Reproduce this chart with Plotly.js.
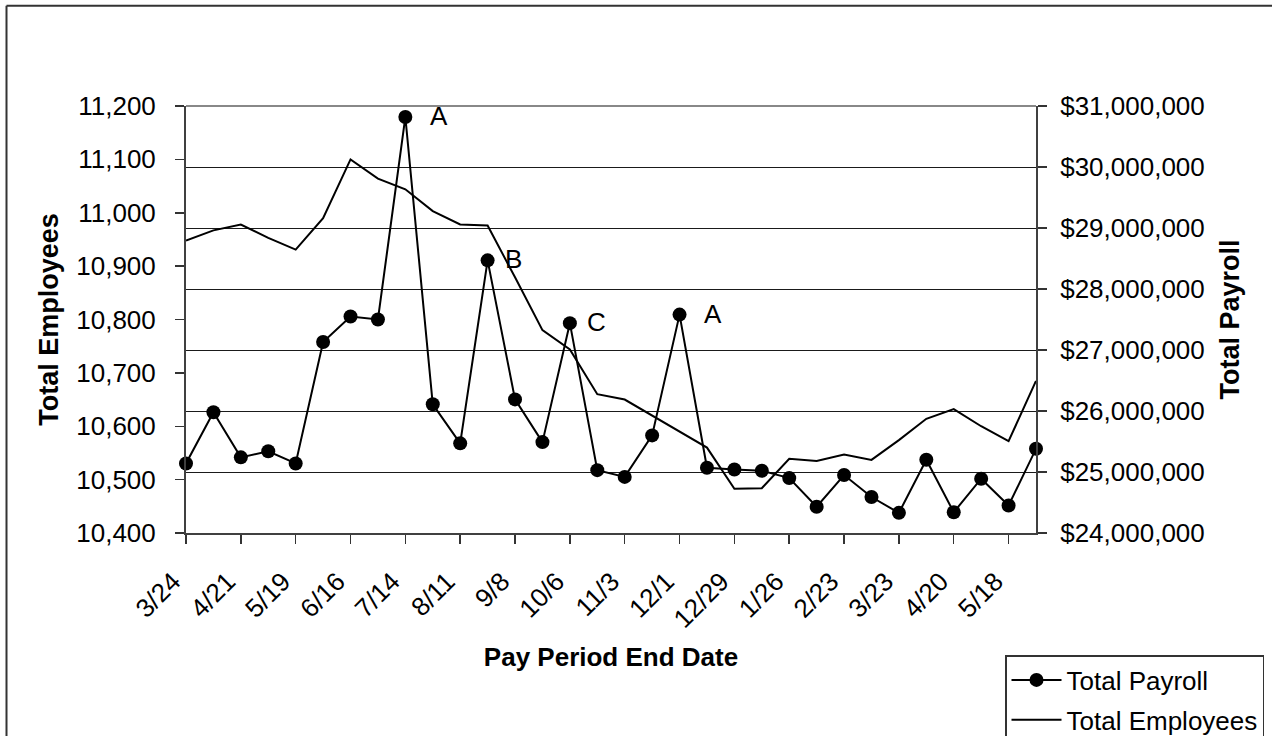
<!DOCTYPE html>
<html>
<head>
<meta charset="utf-8">
<script src="https://cdn.plot.ly/plotly-3.0.1.min.js"></script>
<style>
  html, body { margin: 0; padding: 0; background: #fff; }
  #chart { width: 1272px; height: 736px; }
</style>
</head>
<body>
<div id="chart"></div>
<script>
// ---- data ----
const dates = ['3/24','4/7','4/21','5/5','5/19','6/2','6/16','6/30','7/14','7/28',
               '8/11','8/25','9/8','9/22','10/6','10/20','11/3','11/17','12/1','12/15',
               '12/29','1/12','1/26','2/9','2/23','3/9','3/23','4/6','4/20','5/4',
               '5/18','6/1'];
const payroll = [25140000, 25980000, 25240000, 25340000, 25140000, 27130000, 27550000, 27500000,
                 30820000, 26110000, 25470000, 28470000, 26190000, 25490000, 27440000, 25030000,
                 24920000, 25600000, 27580000, 25070000, 25040000, 25020000, 24900000, 24430000,
                 24950000, 24590000, 24330000, 25200000, 24340000, 24890000, 24450000, 25380000];
const employees = [10948, 10967, 10978, 10953, 10931, 10990, 11100, 11064, 11044, 11003,
                   10978, 10976, 10879, 10780, 10744, 10660, 10650, 10620, 10591, 10560,
                   10483, 10484, 10539, 10535, 10547, 10537, 10574, 10614, 10632, 10600,
                   10572, 10685];
const pointLabels = ['','','','','','','','','A','','','B','','','C','','','','A','',
                     '','','','','','','','','','','',''];
const tickLabels = dates.filter((d, i) => i % 2 === 0);

// ---- styling / geometry ----
const FONT = 'Liberation Sans, Arial, Helvetica, sans-serif';
const L = 186, R = 236, T = 106, B = 203;
const W = 1272, H = 736;
const PW = W - L - R, PH = H - T - B;
const px = v => (v - L) / PW;          // pixel x -> paper x
const py = v => (H - B - v) / PH;      // pixel y -> paper y
const labelShift = {8: 23, 11: 15, 14: 15, 18: 22};

const traces = [
  {
    x: dates, y: payroll, yaxis: 'y2', name: 'Total Payroll',
    type: 'scatter', mode: 'lines+markers', cliponaxis: false,
    line: {color: '#000', width: 2},
    marker: {color: '#000', size: 14},
    hoverinfo: 'skip', legendgroup: 'a'
  },
  {
    x: dates, y: employees, yaxis: 'y', name: 'Total Employees',
    type: 'scatter', mode: 'lines', cliponaxis: false,
    line: {color: '#000', width: 2},
    hoverinfo: 'skip', legendgroup: 'b'
  }
];

const annotations = [];
pointLabels.forEach((t, i) => {
  if (!t) return;
  annotations.push({
    x: dates[i], y: payroll[i], xref: 'x', yref: 'y2', text: t,
    showarrow: false, xanchor: 'left', yanchor: 'middle',
    xshift: labelShift[i] || 20, yshift: 1,
    font: {family: FONT, size: 26, color: '#000'}
  });
});

const layout = {
  width: W, height: H,
  margin: {l: L, r: R, t: T, b: B, pad: 0, autoexpand: false},
  paper_bgcolor: '#fff', plot_bgcolor: '#fff',
  font: {family: FONT, size: 26, color: '#000'},
  showlegend: true,
  xaxis: {
    type: 'category', categoryarray: dates, categoryorder: 'array',
    range: [0, dates.length - 1],
    tickvals: tickLabels, ticktext: tickLabels,
    tickangle: -45, ticks: 'outside', ticklen: 9, tickwidth: 1.5, tickcolor: '#333',
    ticklabelstandoff: 12, ticklabelshift: -13,
    showline: true, linecolor: '#404040', linewidth: 2,
    showgrid: false, zeroline: false, automargin: false,
    tickfont: {family: FONT, size: 26, color: '#000'},
    title: {text: 'Pay Period End Date', standoff: 15,
            font: {family: FONT, size: 26, color: '#000', weight: 'bold'}}
  },
  yaxis: {
    range: [10400, 11200], tick0: 10400, dtick: 100,
    ticks: 'outside', ticklen: 9, tickwidth: 1.5, tickcolor: '#333',
    ticklabelstandoff: 14, automargin: false,
    showline: true, linecolor: '#404040', linewidth: 2,
    showgrid: false, zeroline: false, tickformat: ',',
    tickfont: {family: FONT, size: 26, color: '#000'},
    title: {text: 'Total Employees', standoff: 10,
            font: {family: FONT, size: 27, color: '#000', weight: 'bold'}}
  },
  yaxis2: {
    overlaying: 'y', side: 'right', anchor: 'x',
    range: [24000000, 31000000], tick0: 24000000, dtick: 1000000,
    ticks: 'outside', ticklen: 9, tickwidth: 1.5, tickcolor: '#333',
    ticklabelstandoff: 8, automargin: false,
    showline: true, linecolor: '#404040', linewidth: 2,
    showgrid: true, gridcolor: '#1a1a1a', gridwidth: 1, zeroline: false,
    tickformat: '$,.0f',
    tickfont: {family: FONT, size: 26, color: '#000'},
    title: {text: 'Total Payroll', standoff: 16,
            font: {family: FONT, size: 27, color: '#000', weight: 'bold'}}
  },
  yaxis3: {
    overlaying: 'y', side: 'left', anchor: 'x',
    range: [10400, 11200], tick0: 10400, dtick: 100,
    ticks: 'inside', ticklen: 9, tickwidth: 1.5, tickcolor: '#333',
    showticklabels: false, showline: false, showgrid: false, zeroline: false
  },
  legend: {
    x: px(1005), y: py(655), xanchor: 'left', yanchor: 'top',
    bgcolor: '#fff', bordercolor: '#333', borderwidth: 1.5,
    font: {family: FONT, size: 26, color: '#000'},
    traceorder: 'grouped', tracegroupgap: 3, itemwidth: 50
  },
  shapes: [
    // outer chart frame (left and top edges; right/bottom fall outside the picture)
    {type: 'line', xref: 'paper', yref: 'paper', x0: px(6.5), x1: px(6.5), y0: py(5.7), y1: py(760),
     line: {color: '#333', width: 2}},
    {type: 'line', xref: 'paper', yref: 'paper', x0: px(6.5), x1: px(1290), y0: py(5.7), y1: py(5.7),
     line: {color: '#333', width: 2}},
    // plot area top border
    {type: 'line', xref: 'paper', yref: 'paper', x0: 0, x1: 1, y0: 1, y1: 1,
     line: {color: '#888', width: 2}}
  ],
  annotations: annotations
};

Plotly.newPlot('chart', traces, layout, {staticPlot: true, displayModeBar: false});
</script>
</body>
</html>
